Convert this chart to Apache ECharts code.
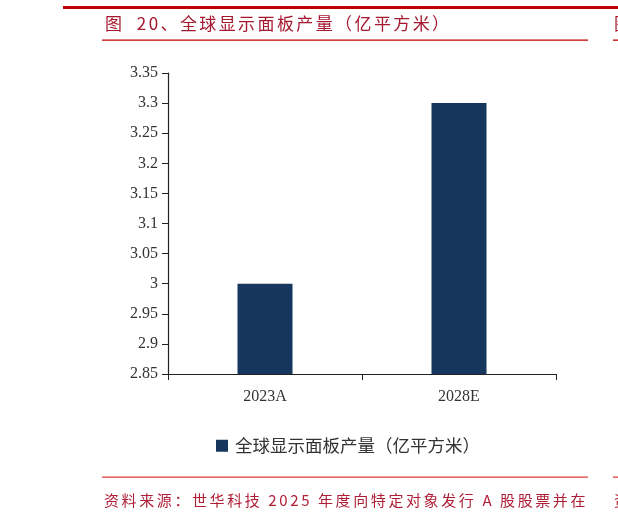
<!DOCTYPE html>
<html lang="zh">
<head>
    <meta charset="utf-8">
    <title>全球显示面板产量</title>
    <script src="https://cdn.jsdelivr.net/npm/echarts@6/dist/echarts.min.js"></script>
    <style>
        html, body { margin: 0; padding: 0; background: #fff; }
        #chart { width: 618px; height: 522px; }
    </style>
</head>
<body>
    <div id="chart"></div>
    <script>
        // data
        var categories = ['2023A', '2028E'];
        var seriesName = '全球显示面板产量（亿平方米）';
        var outputValues = [3.0, 3.3];
        var titleText = '图  20、全球显示面板产量（亿平方米）';
        var sourceText = '资料来源：世华科技 2025 年度向特定对象发行 A 股股票并在';

        var serif = '"Liberation Serif", "DejaVu Serif", serif';
        var cjk = '"Noto Sans CJK SC", sans-serif';

        // the report typesets its captions with extra letter spacing,
        // so lay the characters out one by one
        var measureCtx = document.createElement('canvas').getContext('2d');
        function spacedText(str, x, top, size, spacing, color) {
            var font = size + 'px ' + cjk;
            measureCtx.font = font;
            var items = [];
            for (var i = 0; i < str.length; i++) {
                var ch = str.charAt(i);
                if (ch !== ' ') {
                    items.push({ type: 'text', x: x, y: top, style: { text: ch, font: font, fill: color } });
                }
                x += measureCtx.measureText(ch).width + spacing;
            }
            return items;
        }

        var chart = echarts.init(document.getElementById('chart'));

        var frame = [
            { type: 'rect', shape: { x: 63, y: 6, width: 555, height: 3 }, style: { fill: '#C00000' } },
            { type: 'rect', shape: { x: 102, y: 39.5, width: 486, height: 1.3 }, style: { fill: '#C00000' } },
            { type: 'rect', shape: { x: 613, y: 39.5, width: 5, height: 1.3 }, style: { fill: '#C00000' } },
            { type: 'rect', shape: { x: 102, y: 476.5, width: 486, height: 1.3 }, style: { fill: '#E03A3A' } },
            { type: 'rect', shape: { x: 613, y: 476.5, width: 5, height: 1.3 }, style: { fill: '#E03A3A' } },
            // neighbouring column, cut off at the page edge
            { type: 'text', x: 614, y: 15, style: { text: '图', font: '17px ' + cjk, fill: '#A5172F' } },
            { type: 'text', x: 614, y: 493, style: { text: '资', font: '15px ' + cjk, fill: '#B01E36' } }
        ];
        frame = frame.concat(spacedText(titleText, 105, 15, 17, 2.4, '#A5172F'));
        frame = frame.concat(spacedText(sourceText, 104, 493, 15, 2.6, '#B01E36'));

        var option = {
            animation: false,
            backgroundColor: '#fff',
            grid: { left: 168, top: 73, width: 388, height: 301 },
            legend: {
                left: 211,
                top: 432,
                itemWidth: 12,
                itemHeight: 12,
                itemGap: 10,
                icon: 'rect',
                textStyle: { fontFamily: cjk, fontSize: 17.5, color: '#333', padding: [0, 0, 0, 2] },
                data: [seriesName]
            },
            xAxis: {
                type: 'category',
                data: categories,
                axisLine: { lineStyle: { color: '#222', width: 1.2 } },
                axisTick: { show: true, length: 6, alignWithLabel: false, lineStyle: { color: '#222' } },
                axisLabel: { fontFamily: serif, fontSize: 16, color: '#333', margin: 15 }
            },
            yAxis: {
                type: 'value',
                min: 2.85,
                max: 3.35,
                interval: 0.05,
                splitLine: { show: false },
                axisLine: { show: true, lineStyle: { color: '#222', width: 1.2 } },
                axisTick: { show: true, length: 6, lineStyle: { color: '#222' } },
                axisLabel: {
                    fontFamily: serif, fontSize: 16, color: '#333', margin: 10,
                    formatter: function (v) { return String(+v.toFixed(2)); }
                }
            },
            series: [
                {
                    name: seriesName,
                    type: 'bar',
                    data: outputValues,
                    barWidth: 55,
                    itemStyle: { color: '#17365D' }
                }
            ],
            graphic: frame
        };

        chart.setOption(option);
    </script>
</body>
</html>
